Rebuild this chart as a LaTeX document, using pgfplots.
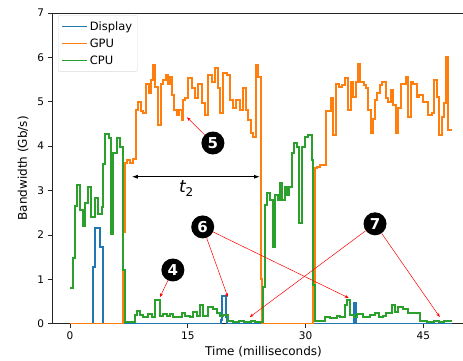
\documentclass[border=0pt]{standalone}
\usepackage{fontspec}
\setmainfont{DejaVu Sans}
\usepackage{pgfplots}
\pgfplotsset{compat=1.18}
\usetikzlibrary{arrows.meta}
\definecolor{mblue}{HTML}{1F77B4}
\definecolor{morange}{HTML}{FF7F0E}
\definecolor{mgreen}{HTML}{2CA02C}
\begin{document}
\begin{tikzpicture}
\begin{axis}[
  at={(0,0)}, anchor=south west,
  scale only axis, width=423.1pt, height=310.8pt,
  xmin=-2.3, xmax=51.6, ymin=0, ymax=7,
  xtick={0,15,30,45}, ytick={0,1,2,3,4,5,6,7},
  tick align=outside, tick pos=left,
  major tick length=4.5pt,
  tick style={black!85, line width=0.8pt},
  axis line style={line width=0.8pt, black!85},
  ticklabel style={font=\fontsize{10.5}{12}\selectfont},
  /pgf/number format/assume math mode=true,
  xlabel={Time (milliseconds)}, ylabel={Bandwidth (Gb/s)},
  label style={font=\fontsize{12}{14}\selectfont},
  xlabel style={at={(axis description cs:0.5,0)}, anchor=north, yshift=-19pt},
  ylabel style={at={(axis description cs:0,0.5)}, anchor=south, yshift=20pt},
  legend style={at={(0.0142,0.993)}, anchor=north west, draw=black!15, rounded corners=2pt,
    fill=white, font=\fontsize{11.5}{13}\selectfont, inner xsep=3pt, inner ysep=4pt,
    row sep=3pt, cells={anchor=west}},
  legend image code/.code={\draw[#1, line width=1.6pt] (0pt,0pt) -- (25pt,0pt);},
  every axis plot/.append style={const plot, line width=2pt, mark=none},
]
\addplot[color=mblue] coordinates {
(0,0) (2.89,1.28) (3.18,2.15) (3.82,1.73) (4.16,0) (19.2,0.08) (19.4,0.62) (19.87,0.15) (20.0,0)
(36.2,0.46) (36.45,0) (48.6,0)
};
\addlegendentry{Display}
\addplot[color=morange] coordinates {
(0,0) (6.7,2.07) (7.0,3.61) (7.3,3.69) (7.64,3.61) (7.98,3.72) (8.41,4.81) (8.7,5.0) (9.0,4.78)
(9.34,4.74) (9.68,5.41) (10.1,5.19) (10.32,5.49) (10.62,5.83) (10.83,5.34) (11.17,4.48) (11.55,5.41)
(11.89,5.49) (12.19,5.6) (12.44,5.41) (12.74,5.56) (13.04,5.15) (13.29,4.81) (13.59,4.7) (13.93,4.81)
(14.23,4.59) (14.44,5.04) (14.65,5.08) (15.07,5.53) (15.5,5.3) (15.92,5.08) (16.35,5.41) (16.77,4.96)
(17.2,4.7) (17.62,5.6) (18.05,5.45) (18.47,5.75) (18.9,5.3) (19.1,4.74) (19.45,5.64) (19.96,5.6)
(20.38,5.04) (20.8,4.86) (21.15,5.04) (21.66,4.81) (22.0,5.3) (22.4,4.81) (22.7,4.59) (23.0,4.29)
(23.35,4.21) (23.7,5.83) (24.0,5.56) (24.3,1.0) (24.5,0) (30.9,0.87) (31.2,3.5) (31.4,3.54)
(31.9,3.57) (32.6,4.78) (33.2,5.08) (33.5,4.25) (33.9,5.41) (34.3,5.34) (34.6,5.38) (35.0,5.53)
(35.45,4.81) (35.76,5.45) (36.1,5.11) (36.4,5.45) (36.7,5.86) (37.0,5.45) (37.4,5.38) (37.7,5.3)
(38.0,4.81) (38.3,4.29) (38.56,4.6) (38.85,5.04) (39.15,5.19) (39.5,5.38) (39.8,5.45) (40.25,5.08)
(40.55,5.0) (40.85,5.26) (41.2,4.93) (41.5,4.29) (41.8,4.85) (42.1,5.41) (42.45,5.41) (42.8,5.56)
(43.1,4.66) (43.4,5.45) (43.7,5.41) (44.15,5.11) (44.5,5.15) (44.9,5.0) (45.2,5.0) (45.6,4.7)
(46.1,4.75) (46.4,5.49) (46.7,5.11) (47.05,4.25) (47.35,4.66) (47.6,4.96) (47.9,6.01) (48.2,4.36)
(48.6,4.36)
};
\addlegendentry{GPU}
\addplot[color=mgreen] coordinates {
(0,0.8) (0.35,1.48) (0.6,2.65) (0.93,3.12) (1.27,2.55) (1.61,2.2) (1.95,2.72) (2.25,3.08) (2.63,2.4)
(3.18,2.83) (3.52,2.47) (4.03,2.62) (4.25,3.6) (4.5,4.28) (4.9,4.18) (5.2,2.03) (5.5,3.85) (5.95,4.18)
(6.35,3.98) (6.7,1.22) (7.0,0.04) (8.28,0.2) (8.58,0.29) (8.92,0.2) (9.34,0.16) (9.98,0.22) (10.4,0.16)
(10.83,0.53) (11.46,0.18) (11.89,0.22) (12.31,0.18) (12.74,0.22) (13.16,0.15) (14.23,0.23) (14.65,0.18)
(15.29,0.15) (15.71,0.27) (16.14,0.18) (16.56,0.42) (16.99,0.18) (17.62,0.37) (18.26,0.34) (18.68,0.25)
(19.11,0.18) (19.53,0.2) (20.17,0.07) (20.8,0.04) (21.5,0.06) (22.2,0.04) (23.0,0.06) (23.6,0.04)
(24.55,0.83) (24.84,2.67) (25.13,2.94) (25.48,2.79) (25.82,1.73) (26.15,2.9) (26.5,2.79) (26.75,3.16)
(27.05,2.79) (27.39,3.09) (27.68,2.9) (27.94,3.09) (28.28,3.84) (28.58,4.06) (28.88,3.99) (29.21,2.26)
(29.51,3.99) (29.94,4.21) (30.36,4.25) (30.79,3.69) (31.0,0.88) (31.2,0.05) (32.5,0.16) (33.1,0.12)
(33.97,0.18) (34.4,0.16) (35.03,0.42) (35.33,0.53) (35.67,0.2) (36.18,0.16) (36.52,0.22) (37.37,0.16)
(38.2,0.2) (38.85,0.23) (39.3,0.16) (39.9,0.18) (40.3,0.23) (41.0,0.42) (41.4,0.27) (41.8,0.38)
(42.46,0.32) (43.1,0.23) (43.7,0.23) (44.6,0.05) (45.5,0.04) (46.3,0.06) (47.0,0.04) (47.6,0.07)
(48.0,0.06) (48.6,0.06)
};
\addlegendentry{CPU}
% t2 arrow
\draw[black, line width=0.9pt, {Latex[length=6pt,width=4pt]}-{Latex[length=6pt,width=4pt]}]
  (axis cs:7.86,3.31) -- (axis cs:24.2,3.31);
\node at (axis cs:14.8,3.05) {{\fontsize{17}{17}\selectfont\itshape t}\raisebox{-4pt}{\fontsize{12}{12}\selectfont 2}};
% circled markers
\tikzset{cnum/.style={circle, fill=black, text=white, inner sep=0pt, minimum size=23pt,
  font=\fontsize{15}{15}\selectfont\bfseries}}
\node[cnum] (n5) at (axis cs:18.2,4.07) {5};
\node[cnum] (n4) at (axis cs:13.1,1.21) {4};
\node[cnum] (n6) at (axis cs:16.9,2.18) {6};
\node[cnum] (n7) at (axis cs:38.85,2.25) {7};
\tikzset{rarr/.style={red, line width=0.5pt, -{Stealth[length=4pt,width=3pt]}}}
\draw[rarr] (n5) -- (axis cs:14.9,4.65);
\draw[rarr] (n4) -- (axis cs:11.46,0.6);
\draw[rarr] (n6) -- (axis cs:20.1,0.6);
\draw[rarr] (n6) -- (axis cs:35.5,0.58);
\draw[rarr] (n7) -- (axis cs:22.9,0.15);
\draw[rarr] (n7) -- (axis cs:47.1,0.15);
\end{axis}
\pgfresetboundingbox
\useasboundingbox (-52pt,-36.3pt) rectangle (411pt,323.7pt);
\end{tikzpicture}
\end{document}
